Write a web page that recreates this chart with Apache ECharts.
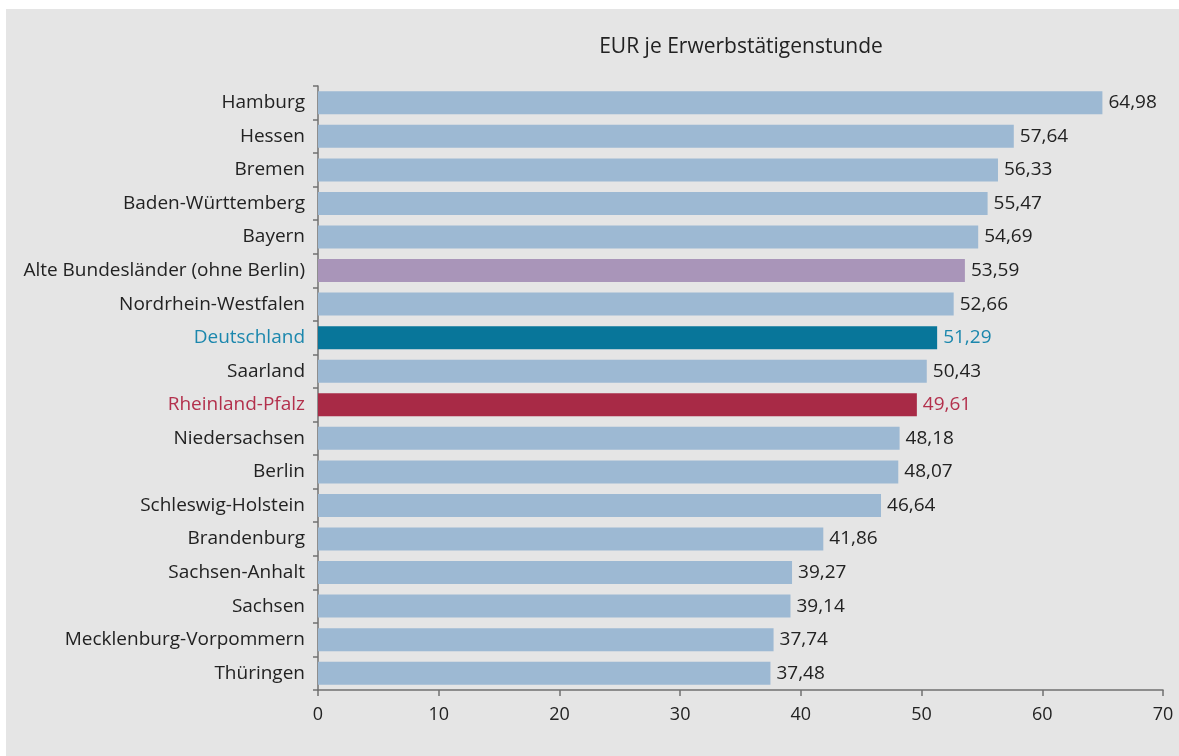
<!DOCTYPE html>
<html>
<head>
<meta charset="utf-8">
<script src="https://cdn.jsdelivr.net/npm/echarts@6/dist/echarts.min.js"></script>
<style>
html,body{margin:0;padding:0;background:#ffffff;}
#chart{position:absolute;left:6px;top:9px;width:1173px;height:747px;background:#e5e5e5;}
</style>
</head>
<body>
<div id="chart"></div>
<script>
const categories = ["Hamburg","Hessen","Bremen","Baden-Württemberg","Bayern","Alte Bundesländer (ohne Berlin)","Nordrhein-Westfalen","Deutschland","Saarland","Rheinland-Pfalz","Niedersachsen","Berlin","Schleswig-Holstein","Brandenburg","Sachsen-Anhalt","Sachsen","Mecklenburg-Vorpommern","Thüringen"];
const values = [64.98,57.64,56.33,55.47,54.69,53.59,52.66,51.29,50.43,49.61,48.18,48.07,46.64,41.86,39.27,39.14,37.74,37.48];
const xTicks = [0,10,20,30,40,50,60,70];
const titleText = "EUR je Erwerbstätigenstunde";

const highlight = {
  "Alte Bundesländer (ohne Berlin)": {bar:"#a995b9", text:"#222222"},
  "Deutschland": {bar:"#08769a", text:"#1b87ad"},
  "Rheinland-Pfalz": {bar:"#a82a46", text:"#b3304c"}
};
const baseBar = "#9db9d3";
const baseText = "#222222";
const fontFam = "'Open Sans', 'Noto Sans', sans-serif";

const data = categories.map((c,i)=>{
  const h = highlight[c];
  return {
    value: values[i],
    itemStyle: {color: h ? h.bar : baseBar},
    label: {color: h ? h.text : baseText}
  };
});

const chart = echarts.init(document.getElementById('chart'));
chart.setOption({
  animation:false,
  backgroundColor:'#e5e5e5',
  title:{text:titleText, left:730, top:23, textAlign:'center',
    textStyle:{fontFamily:fontFam, fontSize:21, fontWeight:'normal', color:'#222'}},
  grid:{left:312, right:16, top:77, height:604, containLabel:false},
  xAxis:{type:'value', min:0, max:70, interval:10,
    axisLine:{show:true, lineStyle:{color:'#707070', width:1.5}},
    axisTick:{show:true, length:6, lineStyle:{color:'#707070', width:1.5}},
    splitLine:{show:false},
    axisLabel:{fontFamily:fontFam, fontSize:18, color:'#222', margin:16,
      formatter:(v)=> xTicks.includes(v) ? String(v) : ''}
  },
  yAxis:{type:'category', data:categories, inverse:true,
    axisLine:{show:true, lineStyle:{color:'#707070', width:1.5}},
    axisTick:{show:true, length:5, alignWithLabel:false, lineStyle:{color:'#707070', width:1.5}},
    axisLabel:{fontFamily:fontFam, fontSize:19, margin:13,
      color:(v)=> highlight[v] ? highlight[v].text : baseText}
  },
  series:[{type:'bar', data:data, barWidth:23,
    label:{show:true, position:'right', distance:6, fontFamily:fontFam, fontSize:19,
      formatter:(p)=> p.value.toFixed(2).replace('.', ',')}
  }]
});
</script>
</body>
</html>
